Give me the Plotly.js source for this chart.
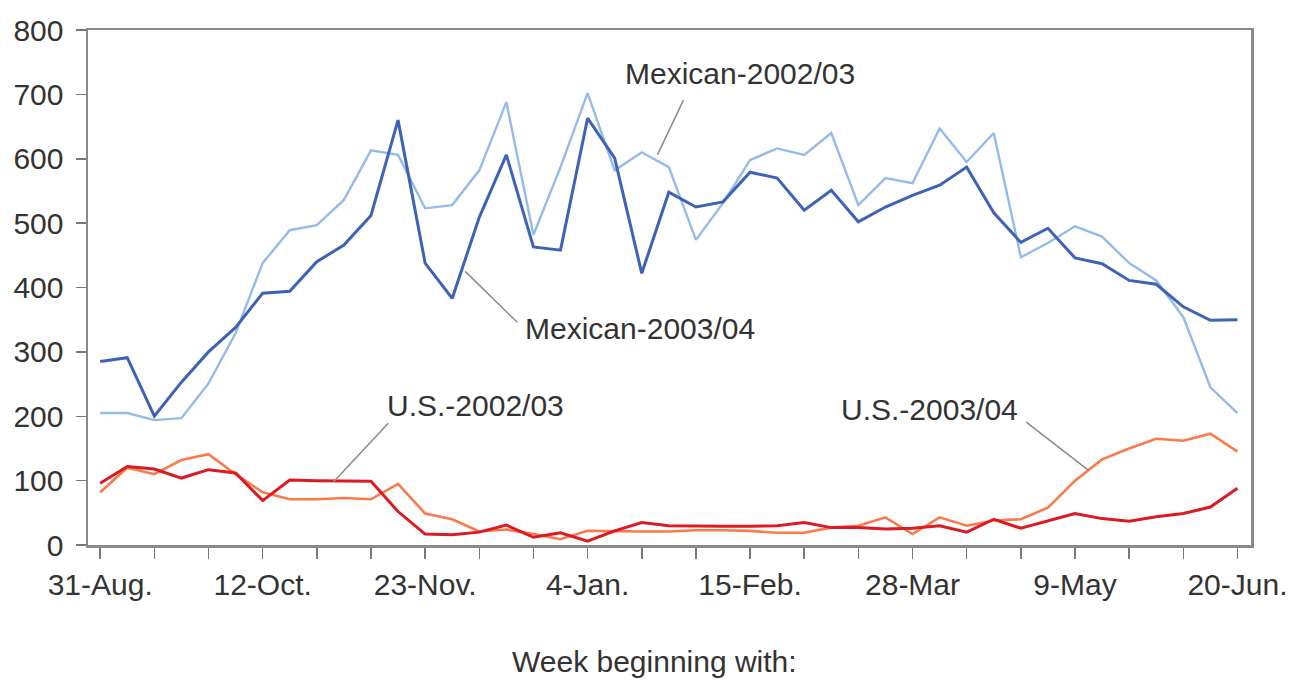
<!DOCTYPE html>
<html>
<head>
<meta charset="utf-8">
<script src="https://cdn.plot.ly/plotly-3.0.1.min.js"></script>
<style>html,body{margin:0;padding:0;background:#fff;}#chart{width:1289px;height:680px;}</style>
</head>
<body>
<div id="chart"></div>
<script>
// Week index 0 = 31-Aug ... 42 = 20-Jun
const weeks = Array.from({length: 43}, (_, i) => i);
const tickWeeks = [0, 6, 12, 18, 24, 30, 36, 42];
const tickLabels = ["31-Aug.", "12-Oct.", "23-Nov.", "4-Jan.", "15-Feb.", "28-Mar", "9-May", "20-Jun."];

const mexican0304 = [285, 291, 200, 253, 300, 338, 391, 394, 440, 466, 512, 660,
  438, 383, 509, 606, 463, 458, 663, 601, 422, 548, 525, 533, 579, 570, 520, 551,
  502, 525, 543, 559, 587, 516, 470, 492, 446, 437, 411, 405, 370, 349, 350];
const mexican0203 = [205, 205, 194, 197, 251, 329, 438, 489, 497, 536, 613, 606,
  523, 528, 582, 688, 482, 587, 702, 582, 610, 587, 474, 531, 598, 616, 606, 640,
  528, 570, 562, 647, 595, 640, 447, 469, 495, 479, 438, 411, 354, 245, 205];
const us0203 = [96, 122, 118, 104, 117, 112, 69, 101, 100, 99, 99, 52,
  17, 16, 20, 31, 12, 19, 6, 22, 35, 30, 29, 29, 29, 30, 35, 27,
  27, 25, 26, 30, 20, 40, 26, 38, 49, 41, 37, 44, 49, 59, 88];
const us0304 = [82, 120, 110, 132, 141, 110, 82, 71, 71, 73, 71, 95,
  49, 40, 21, 24, 17, 9, 22, 21, 21, 21, 23, 23, 22, 19, 19, 27,
  30, 43, 17, 43, 30, 38, 40, 58, 100, 133, 150, 165, 162, 173, 145];

const seriesNames = ["Mexican-2002/03", "Mexican-2003/04", "U.S.-2002/03", "U.S.-2003/04"];

const FONT = "Liberation Sans, Arial, sans-serif";
const TXT = "#333333";
const FS = 30;

const traces = [
  {x: weeks, y: mexican0203, name: seriesNames[0], mode: "lines", line: {color: "#95bbe8", width: 2.4}},
  {x: weeks, y: mexican0304, name: seriesNames[1], mode: "lines", line: {color: "#3d62b8", width: 3}},
  {x: weeks, y: us0304, name: seriesNames[3], mode: "lines", line: {color: "#fb7a4c", width: 2.6}},
  {x: weeks, y: us0203, name: seriesNames[2], mode: "lines", line: {color: "#dc1a22", width: 3}}
];

function leader(x0, y0, x1, y1) {
  return {type: "line", xref: "x", yref: "y", x0: x0, y0: y0, x1: x1, y1: y1,
          line: {color: "#8a8a8a", width: 1.5}};
}
function label(text, x, y) {
  return {text: text, x: x, y: y, xref: "x", yref: "y", showarrow: false,
          xanchor: "center", yanchor: "middle", font: {family: FONT, size: FS, color: TXT}};
}

const layout = {
  width: 1289, height: 680,
  margin: {l: 88, r: 38, t: 30, b: 135},
  paper_bgcolor: "#ffffff", plot_bgcolor: "#ffffff",
  showlegend: false,
  font: {family: FONT, size: FS, color: TXT},
  xaxis: {
    range: [-0.45, 42.5], tickmode: "array", tickvals: tickWeeks, ticktext: tickLabels,
    ticks: "outside", ticklen: 11, tickwidth: 1.5, tickcolor: "#777",
    minor: {dtick: 2, tick0: 0, ticks: "outside", ticklen: 11, tickwidth: 1.5, tickcolor: "#777", showgrid: false},
    showline: true, linecolor: "#8a8a8a", linewidth: 2.5, mirror: true,
    showgrid: false, zeroline: false,
    tickfont: {family: FONT, size: FS, color: TXT}
  },
  yaxis: {
    range: [0, 800], dtick: 100, tick0: 0,
    ticks: "outside", ticklen: 10, tickwidth: 1.5, tickcolor: "#777",
    ticklabelstandoff: 6,
    showline: true, linecolor: "#8a8a8a", linewidth: 2.5, mirror: true,
    showgrid: false, zeroline: false,
    tickfont: {family: FONT, size: FS, color: TXT}
  },
  shapes: [
    leader(21.54, 691, 20.58, 606),
    leader(13.48, 425, 15.40, 346),
    leader(10.64, 189, 8.61, 98),
    leader(34.2, 191, 36.5, 116)
  ],
  annotations: [
    label(seriesNames[0], 23.64, 733),
    label(seriesNames[1], 19.95, 337),
    label(seriesNames[2], 13.85, 217),
    label(seriesNames[3], 30.62, 210),
    {text: "Week beginning with:", xref: "paper", yref: "paper", x: 0.4875, y: -0.227,
     xanchor: "center", yanchor: "middle", showarrow: false,
     font: {family: FONT, size: FS, color: TXT}}
  ]
};

Plotly.newPlot("chart", traces, layout, {displayModeBar: false, staticPlot: true});
</script>
</body>
</html>
